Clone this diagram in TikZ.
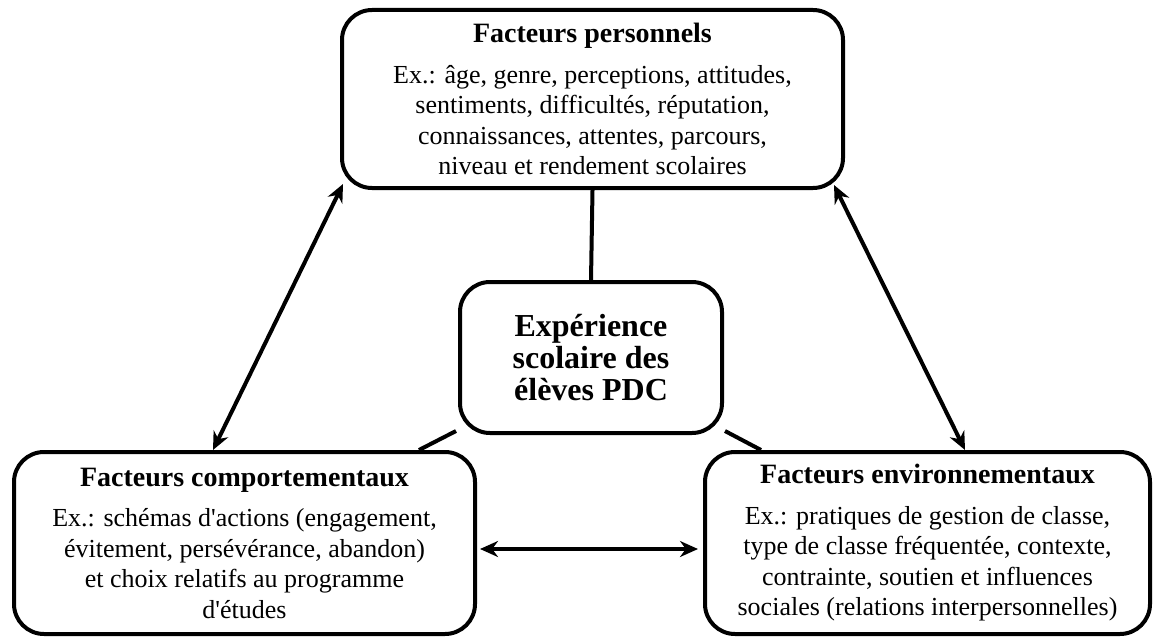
\documentclass[tikz,border=0pt]{standalone}
\usepackage{fontspec}
\setmainfont{Liberation Serif}[Ligatures=TeXOff]
\usetikzlibrary{arrows.meta,calc}
\newcommand{\ttl}[1]{{\fontsize{28}{31}\selectfont\bfseries #1}}
\begin{document}
\begin{tikzpicture}[x=1pt,y=-1pt,
  box/.style={draw,line width=4pt,rounded corners=30pt,align=center,inner sep=0pt,fill=white},
  body/.style={font=\fontsize{26}{30.5}\selectfont},
  conn/.style={line width=4pt},
  dbl/.style={line width=4pt,{Stealth[length=18pt,width=16pt]}-{Stealth[length=18pt,width=16pt]}}]
\useasboundingbox (0,0) rectangle (1155,639);
\node[box,body,minimum width=501pt,minimum height=178pt] (top) at (592.5,99)
  {\ttl{Facteurs personnels}\\[10pt]
   Ex.: âge, genre, perceptions, attitudes,\\
   sentiments, difficultés, réputation,\\
   connaissances, attentes, parcours,\\
   niveau et rendement scolaires};
\node[box,font=\fontsize{32}{32}\selectfont\bfseries,minimum width=262pt,minimum height=151pt] (mid) at (591,357.5)
  {Expérience\\scolaire des\\élèves PDC};
\node[box,body,minimum width=461pt,minimum height=182pt] (left) at (244.5,543)
  {\ttl{Facteurs comportementaux}\\[10pt]
   Ex.: schémas d'actions (engagement,\\
   évitement, persévérance, abandon)\\
   et choix relatifs au programme\\
   d'études};
\node[box,body,minimum width=445pt,minimum height=182pt] (right) at (927.5,543)
  {\ttl{Facteurs environnementaux}\\[10pt]
   Ex.: pratiques de gestion de classe,\\
   type de classe fréquentée, contexte,\\
   contrainte, soutien et influences\\
   sociales (relations interpersonnelles)};
\draw[conn] (top.south) -- (mid.north);
\draw[conn] ([shift={(-2,-4)}]mid.south west) -- ([shift={(-58,0)}]left.north east);
\draw[conn] ([shift={(1,-4)}]mid.south east) -- ([shift={(58,0)}]right.north west);
\draw[dbl] ([shift={(3,-6)}]top.south west) -- ([shift={(-31.5,0)}]left.north);
\draw[dbl] ([shift={(-11,-5)}]top.south east) -- ([shift={(37.5,0)}]right.north);
\draw[dbl] ([shift={(3,6)}]left.east) -- ([shift={(-5,6)}]right.west);
\end{tikzpicture}
\end{document}
